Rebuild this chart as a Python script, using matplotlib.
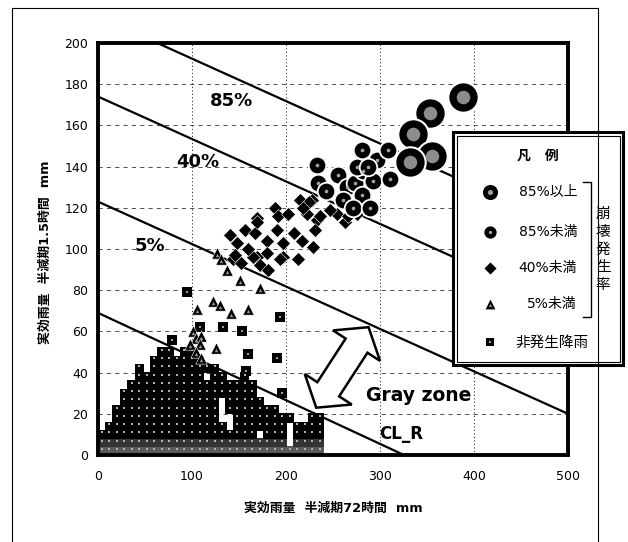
import matplotlib
matplotlib.use('Agg')
import matplotlib.pyplot as plt
import numpy as np
from matplotlib.patches import Polygon, Rectangle
from matplotlib.transforms import Affine2D, ScaledTranslation
from matplotlib.lines import Line2D

plt.rcParams['font.family'] = ['DejaVu Sans', 'Noto Sans CJK JP']

# ---------------- data ----------------
# 非発生降雨: dense block, listed row by row (y level -> x values)
ng_levels = [2, 6, 10, 14, 18, 22, 26, 30, 34, 38, 42, 46, 50]
ng_x_rows = [
    [4, 12, 20, 28, 36, 44, 52, 60, 68, 76, 84, 92, 100, 108, 116, 124, 132, 140, 148, 156, 164, 172, 180, 188, 196, 204, 212, 220, 228, 236],
    [4, 12, 20, 28, 36, 44, 52, 60, 68, 76, 84, 92, 100, 108, 116, 124, 132, 140, 148, 156, 164, 172, 180, 188, 196, 212, 220, 228, 236],
    [4, 12, 20, 28, 36, 44, 52, 60, 68, 76, 84, 92, 100, 108, 116, 124, 132, 140, 148, 156, 164, 180, 188, 196, 212, 220, 228, 236],
    [12, 20, 28, 36, 44, 52, 60, 68, 76, 84, 92, 100, 108, 116, 124, 132, 148, 156, 164, 172, 180, 188, 196, 212, 220, 228, 236],
    [20, 28, 36, 44, 52, 60, 68, 76, 84, 92, 100, 108, 116, 124, 148, 156, 164, 172, 180, 188, 196, 204, 228, 236],
    [20, 28, 36, 44, 52, 60, 68, 76, 84, 92, 100, 108, 116, 124, 140, 148, 156, 164, 172, 180, 188],
    [28, 36, 44, 52, 60, 68, 76, 84, 92, 100, 108, 116, 124, 140, 148, 156, 164, 172],
    [28, 36, 44, 52, 60, 68, 76, 84, 92, 100, 108, 116, 124, 132, 140, 148, 156, 164],
    [36, 44, 52, 60, 68, 76, 84, 92, 100, 108, 116, 124, 132, 140, 148, 156, 164],
    [44, 52, 60, 68, 76, 84, 92, 100, 108, 124, 132, 156],
    [44, 60, 68, 76, 84, 92, 100, 108, 116, 124],
    [60, 68, 76, 84, 92, 100, 108],
    [68, 76, 92, 100],
]
# 非発生降雨: isolated points above the block
ng_out_x = [95, 194, 133, 153, 108, 79, 160, 190, 157, 196]
ng_out_y = [79, 67, 62, 60, 62, 56, 49, 47, 41, 30]

# 5%未満 (triangles)
tri_x = [127, 131, 137, 151, 172, 122, 130, 105, 142, 160, 126, 101, 104, 110, 98, 108, 104, 110]
tri_y = [98, 95, 90, 85, 81, 75, 73, 71, 69, 71, 52, 60, 57, 58, 54, 54, 50, 47]

# 40%未満 (diamonds)
dia_x = [140, 148, 156, 169, 167, 180, 169, 180, 188, 191, 190, 202, 208, 197, 215, 228, 222, 233,
         231, 217, 229, 213, 172, 144, 152, 146, 165, 194, 181, 197, 169, 224, 218, 236, 254, 263,
         276, 247, 257, 266, 160]
dia_y = [107, 103, 109, 115, 108, 104, 96, 98, 120, 116, 109, 117, 108, 96, 124, 124, 117, 114,
         109, 104, 101, 95, 92, 95, 93, 97, 96, 95, 90, 103, 113, 123, 120, 116, 117, 113,
         117, 119, 124, 116, 100]

# 85%未満 (medium circles)
c85u_x = [233, 234, 255, 243, 265, 261, 273, 281, 271, 289, 282, 275, 281, 293, 297, 309, 311, 287]
c85u_y = [141, 132, 136, 128, 130, 124, 132, 126, 120, 120, 138, 140, 148, 133, 143, 148, 134, 140]

# 85%以上 (large circles)
c85o_x = [388, 353, 335, 355, 332]
c85o_y = [174, 166, 156, 145, 142]

# boundary lines: intercept at x=0, slope
line_names = ['85%', '40%', '5%', 'CL_R']
line_b = [213, 174, 123, 69]
line_m = [-0.206, -0.206, -0.206, -0.212]

x_ticks = [0, 100, 200, 300, 400, 500]
y_ticks = [0, 20, 40, 60, 80, 100, 120, 140, 160, 180, 200]

# ---------------- figure ----------------
W, H = 628, 542
fig = plt.figure(figsize=(W / 100, H / 100), dpi=100)
fig.patch.set_facecolor('white')

def fx(px):
    return px / W

def fy(py):
    return 1 - py / H

ax = fig.add_axes([fx(98), fy(455), 470 / W, 412 / H])
ax.set_xlim(0, 500)
ax.set_ylim(0, 200)
ax.set_xticks(x_ticks)
ax.set_yticks(y_ticks)
ax.tick_params(length=0, labelsize=9)
ax.tick_params(axis='x', pad=11)
ax.tick_params(axis='y', pad=7)
for s in ax.spines.values():
    s.set_linewidth(2.8)
    s.set_zorder(10)

for yv in y_ticks[1:-1]:
    ax.axhline(yv, color='#333333', lw=0.6, ls=(0, (5, 5)), zorder=1)
for xv in x_ticks[1:-1]:
    ax.axvline(xv, color='#333333', lw=0.7, ls=(0, (1.2, 2.4)), zorder=1)

xx = np.array([0, 500])
for b, m in zip(line_b, line_m):
    ax.plot(xx, b + m * xx, color='black', lw=1.6, zorder=2)

# non-occurrence squares
row_colors = ['#5a5a5a', '#333333'] + ['black'] * (len(ng_levels) - 2)
ngx = np.concatenate([np.array(r, float) for r in ng_x_rows])
ngy = np.concatenate([np.full(len(r), lv, float) for r, lv in zip(ng_x_rows, ng_levels)])
ngc = sum([[c] * len(r) for r, c in zip(ng_x_rows, row_colors)], [])
ax.scatter(ngx, ngy, marker='s', s=44, c=ngc, linewidths=0, zorder=3)
ax.scatter(ngx, ngy + 1, marker='s', s=1.5, c='#b0b0b0', linewidths=0, zorder=3.1)
ax.scatter(ng_out_x, ng_out_y, marker='s', s=44, c='black', linewidths=0, zorder=3)
ax.scatter(ng_out_x, ng_out_y, marker='s', s=3, c='#a0a0a0', linewidths=0, zorder=3.1)

# triangles
ax.scatter(tri_x, tri_y, marker='^', s=66, c='black', edgecolors='white', linewidths=0.4, zorder=4)
ax.scatter(tri_x, np.array(tri_y) - 1, marker='^', s=6, c='#9a9a9a', linewidths=0, zorder=4.1)

# diamonds
ax.scatter(dia_x, dia_y, marker='D', s=50, c='black', edgecolors='white', linewidths=0.4, zorder=4)

# medium circles
ax.scatter(c85u_x, c85u_y, marker='o', s=160, c='black', edgecolors='white', linewidths=1.3, zorder=5)
ax.scatter(c85u_x, c85u_y, marker='o', s=7, c='#a0a0a0', linewidths=0, zorder=5.1)

# large circles
ax.scatter(c85o_x, c85o_y, marker='o', s=480, c='black', edgecolors='white', linewidths=1.5, zorder=5)
ax.scatter(c85o_x, c85o_y, marker='o', s=95, c='#8c8c8c', linewidths=0, zorder=5.1)

# labels on lines
txt_kw = dict(fontsize=13, fontweight='bold', ha='center', va='center', zorder=8)
ax.text(142, 172, '85%', **txt_kw)
ax.text(106, 142, '40%', **txt_kw)
ax.text(55, 101.5, '5%', **txt_kw)
ax.text(341, 29, 'Gray zone', fontsize=13.5, fontweight='bold', ha='center', va='center', zorder=8)
ax.text(323, 10, 'CL_R', fontsize=12, fontweight='bold', ha='center', va='center', zorder=8)

# hollow double arrow (gray zone)
L, hl, hw, sw = 96, 22, 56, 26
arrow_pts = np.array([
    [-L / 2, 0], [-L / 2 + hl, hw / 2], [-L / 2 + hl, sw / 2], [L / 2 - hl, sw / 2],
    [L / 2 - hl, hw / 2], [L / 2, 0], [L / 2 - hl, -hw / 2], [L / 2 - hl, -sw / 2],
    [-L / 2 + hl, -sw / 2], [-L / 2 + hl, -hw / 2]])
arrow_tr = Affine2D().rotate_deg(57).scale(fig.dpi / 100) + ScaledTranslation(260, 42.5, ax.transData)
arrow = Polygon(arrow_pts, closed=True, transform=arrow_tr, facecolor='white',
                edgecolor='black', lw=1.8, zorder=7)
ax.add_artist(arrow)

# axis labels
lab_kw = dict(fontsize=9.3, fontweight='bold', ha='center', va='center')
fig.text(fx(333), fy(508), '実効雨量  半減期72時間  mm', **lab_kw)
fig.text(fx(45), fy(252), '実効雨量  半減期1.5時間  mm', rotation=90, **lab_kw)

# outer frame
for xs, ys in [([12, 12], [8, 560]), ([12, 598], [8, 8]), ([598, 598], [8, 560])]:
    fig.add_artist(Line2D([fx(v) for v in xs], [fy(v) for v in ys], transform=fig.transFigure,
                          color='black', lw=0.8))

# ---------------- legend box ----------------
lax = fig.add_axes([fx(453), fy(365), 170 / W, 233 / H])
lax.set_xlim(0, 170)
lax.set_ylim(233, 0)
lax.axis('off')
lax.add_patch(Rectangle((0, 0), 170, 233, facecolor='white', edgecolor='black', lw=2.2, clip_on=False))
lax.add_patch(Rectangle((3.5, 3.5), 163, 226, fill=False, edgecolor='black', lw=0.8, clip_on=False))
lax.text(85, 24, '凡　例', fontsize=10, fontweight='bold', ha='center', va='center')

leg_rows = [60, 100, 136, 172, 210]
mx = 37
lax.scatter([mx], [leg_rows[0]], marker='o', s=118, c='black', linewidths=0, clip_on=False)
lax.scatter([mx], [leg_rows[0]], marker='o', s=14, c='#a0a0a0', linewidths=0, clip_on=False)
lax.scatter([mx], [leg_rows[1]], marker='o', s=78, c='black', linewidths=0, clip_on=False)
lax.scatter([mx], [leg_rows[1]], marker='o', s=6, c='#a0a0a0', linewidths=0, clip_on=False)
lax.scatter([mx], [leg_rows[2]], marker='D', s=38, c='black', linewidths=0, clip_on=False)
lax.scatter([mx], [leg_rows[3]], marker='^', s=50, c='black', linewidths=0, clip_on=False)
lax.scatter([mx], [leg_rows[3] + 1], marker='^', s=5, c='#a0a0a0', linewidths=0, clip_on=False)
lax.scatter([mx], [leg_rows[4]], marker='s', s=34, c='black', linewidths=0, clip_on=False)
lax.scatter([mx], [leg_rows[4]], marker='s', s=4, c='#a0a0a0', linewidths=0, clip_on=False)

leg_labels = ['85%以上', '85%未満', '40%未満', '5%未満']
for lbl, rv in zip(leg_labels, leg_rows[:4]):
    lax.text(124, rv, lbl, fontsize=10, ha='right', va='center')
lax.text(62, leg_rows[4], '非発生降雨', fontsize=10.5, ha='left', va='center')

# bracket and vertical caption
lax.plot([130, 138, 138, 130], [50, 50, 185, 185], color='black', lw=1.0, clip_on=False)
lax.text(150, 117, '崩\n壊\n発\n生\n率', fontsize=10.5, ha='center', va='center', linespacing=1.25)

fig.savefig('out.png', dpi=100)
